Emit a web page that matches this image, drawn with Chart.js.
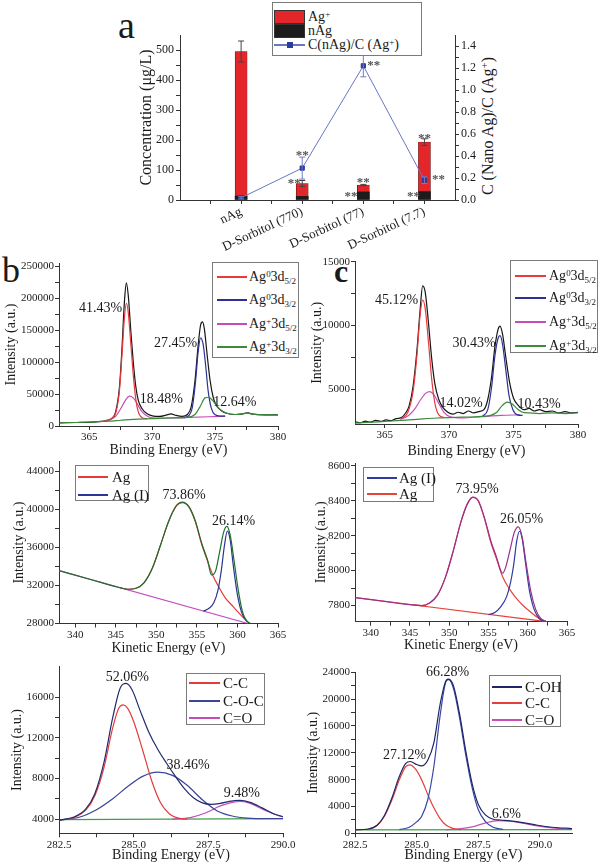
<!DOCTYPE html>
<html>
<head>
<meta charset="utf-8">
<script src="https://cdn.jsdelivr.net/npm/chart.js@4/dist/chart.umd.min.js"></script>
<style>
  body { margin: 0; background: #fff; }
  #wrap { position: relative; width: 600px; height: 865px; overflow: hidden;
          font-family: "Liberation Serif", "Times New Roman", serif; color: #1a1a1a; }
  canvas { position: absolute; }
  .lgbox { position: absolute; background: #fff; border: 1px solid #7a7a7a; box-sizing: border-box; }
  .lgline { position: absolute; height: 2px; }
  .lgrect { position: absolute; border: 1px solid #333; box-sizing: border-box; }
  .lgtxt { position: absolute; white-space: nowrap; line-height: 18px; }
  .lgtxt sub, .lgtxt sup { font-size: 64%; line-height: 0; }
  .lgtxt sub { vertical-align: -0.35em; }
  .lgtxt sup { vertical-align: 0.5em; }
  .letter { position: absolute; line-height: 1; }
  .rtitle { position: absolute; white-space: nowrap; font-size: 16px; transform: translate(-50%, -50%) rotate(-90deg); }
  .rtitle sup { font-size: 68%; line-height: 0; vertical-align: 0.5em; }
</style>
</head>
<body>
<div id="wrap">
  <div class="letter" style="left:118px;top:6px;font-size:38px;">a</div>
  <div class="letter" style="left:2px;top:252px;font-size:36px;">b</div>
  <div class="letter" style="left:334px;top:255px;font-size:32px;font-weight:bold;">c</div>
  <div class="rtitle" style="left:488px;top:126px;">C (Nano Ag)/C (Ag<sup>+</sup>)</div>
</div>
<script>
// ---- panel a: concentrations ----
const categories = ["nAg", "D-Sorbitol (770)", "D-Sorbitol (77)", "D-Sorbitol (7.7)"];
const agIon = [482, 43, 23, 165];
const nAg = [13, 12, 27, 28];
const totalErr = [35, 10, 2, 11];
const ratio = [0.02, 0.29, 1.22, 0.18];
const ratioErr = [0.01, 0.1, 0.1, 0.03];
const concTicks = [0, 100, 200, 300, 400, 500];
const ratioTicks = [0, 0.2, 0.4, 0.6, 0.8, 1.0, 1.2, 1.4];
// "**" marks: [x position, value, axis]
const stars = [[1.87, 65, "y"], [2, 0.43, "y1"], [2.8, 22, "y"], [3, 68, "y"], [3.17, 1.25, "y1"],
               [3.82, 22, "y"], [4, 213, "y"], [4.23, 0.21, "y1"]];

// ---- panel b: Ag 3d, sample 1 ----
const bTotal = [[362.6,5000],[364,5500],[365.5,6500],[366.3,8000],[366.8,12000],[367.1,22000],[367.4,60000],[367.6,120000],[367.8,195000],[367.95,224000],[368.1,205000],[368.3,150000],[368.5,100000],[368.7,62000],[368.9,40000],[369.2,27000],[369.6,19000],[370.1,15500],[370.6,15000],[371.1,17000],[371.5,19000],[371.9,16500],[372.4,15000],[372.8,18000],[373.1,30000],[373.4,70000],[373.65,125000],[373.85,158000],[374.0,163000],[374.15,152000],[374.35,115000],[374.6,72000],[374.85,45000],[375.1,32000],[375.5,24000],[376,19500],[376.6,18000],[377.2,19000],[377.6,20500],[378,18500],[379,17500],[380,17500]];
const bAg0d52 = [[366.2,8000],[366.7,11000],[367.1,20000],[367.4,55000],[367.6,110000],[367.8,170000],[367.95,192000],[368.1,178000],[368.3,130000],[368.5,80000],[368.7,42000],[368.9,22000],[369.2,13000],[369.6,11500]];
const bAg0d32 = [[372.5,13000],[372.9,16000],[373.2,30000],[373.45,70000],[373.65,115000],[373.85,138000],[374.05,128000],[374.25,95000],[374.45,55000],[374.7,28000],[375.0,17500],[375.4,15500],[375.8,15500]];
const bAgId52 = [[366.0,7000],[366.6,9500],[367.1,15000],[367.5,27000],[367.9,41000],[368.2,46600],[368.5,44000],[368.8,35000],[369.2,22000],[369.7,14500],[370.3,12500],[371.5,12800],[373,13500],[374.5,14500],[375.8,15500]];
const bAgId32 = [[362.6,5000],[364,5500],[365.5,6500],[366.5,7500],[367.5,9000],[368.5,10500],[370,11500],[371.5,12500],[372.8,13500],[373.4,18000],[373.8,30000],[374.2,44000],[374.5,45000],[374.8,40000],[375.2,30000],[375.6,23000],[376,19500],[376.6,18000],[377.2,19000],[377.6,20500],[378,18500],[379,17500],[380,17500]];
const bLabels = [["41.43%",365.9,184600],["27.45%",371.86,129800],["18.48%",370.74,42240],["12.64%",376.58,37550]];

// ---- panel c: Ag 3d, sample 2 ----
const cTotal = [[362.7,2450],[363.1,2380],[363.5,2500],[363.9,2420],[364.3,2560],[364.7,2480],[365.1,2600],[365.5,2540],[365.9,2700],[366.3,2780],[366.6,3100],[366.9,3700],[367.2,5200],[367.5,8000],[367.75,11200],[367.95,13100],[368.15,12600],[368.4,10200],[368.65,7400],[368.9,5400],[369.2,4200],[369.5,3600],[369.9,3200],[370.3,3050],[370.7,3200],[371.1,3100],[371.5,3300],[371.9,3150],[372.3,3250],[372.7,3400],[373.0,4200],[373.3,6000],[373.55,8300],[373.8,9700],[373.95,9950],[374.15,9300],[374.4,7500],[374.7,5500],[375.0,4300],[375.4,3700],[375.8,3400],[376.2,3500],[376.6,3300],[377,3400],[377.5,3250],[378,3300],[378.5,3150],[379,3250],[379.5,3150],[380,3200]];
const cAg0d52 = [[366.3,2700],[366.8,3200],[367.2,4800],[367.5,7600],[367.75,10800],[367.95,12000],[368.15,11300],[368.4,8700],[368.65,5800],[368.9,3900],[369.2,3000],[369.6,2800]];
const cAg0d32 = [[372.6,2900],[373.0,3400],[373.3,5200],[373.55,7600],[373.8,9000],[373.95,9200],[374.15,8500],[374.4,6500],[374.65,4500],[374.95,3400],[375.3,3000],[375.7,2950]];
const cAgId52 = [[366.2,2650],[366.8,2900],[367.3,3400],[367.8,4200],[368.2,4700],[368.5,4820],[368.8,4600],[369.2,3900],[369.6,3200],[370.1,2850],[371,2750],[372.5,2850],[374,2950],[375.5,3000]];
const cAgId32 = [[362.7,2350],[364.5,2450],[366,2550],[367.5,2650],[369,2750],[370.5,2800],[372,2850],[373.2,2950],[373.7,3200],[374.1,3700],[374.5,4000],[374.9,3850],[375.3,3450],[375.7,3200],[376.2,3150],[377,3100],[378,3150],[379,3100],[380,3150]];
const cLabels = [["45.12%",365.92,12000],["30.43%",371.93,8630],["14.02%",370.92,3930],["10.43%",376.98,3850]];

// ---- middle left: Ag MNN, sample 1 ----
const mlBg = [[338,33550],[361.3,28000]];
const mlTotal = [[338,33550],[342,32600],[345,31880],[346.5,31600],[347.5,31700],[348.5,32300],[349.5,33800],[350.5,36200],[351.5,38700],[352.5,40400],[353.2,40750],[354,40300],[354.8,38800],[355.6,36400],[356.3,34700],[356.8,33100],[357.3,33500],[357.8,35500],[358.3,37600],[358.7,38200],[359.1,37300],[359.6,34500],[360.1,31500],[360.6,29300],[361.1,28300],[361.6,28000]];
const mlAg = [[345.5,31770],[346.5,31600],[347.5,31700],[348.5,32300],[349.5,33800],[350.5,36200],[351.5,38700],[352.5,40400],[353.2,40700],[354,40250],[354.8,38700],[355.6,36300],[356.3,34600],[357.0,33000],[357.6,32000],[358.5,30700],[359.5,29750],[360.4,28900],[361.2,28200]];
const mlAgI = [[355.8,29300],[356.5,29600],[357.1,30200],[357.6,31500],[358.0,33500],[358.4,36200],[358.75,37700],[359.1,36800],[359.5,34000],[360.0,31000],[360.5,29200],[361.0,28400],[361.5,28000]];
const mlLabels = [["73.86%",353.41,41500],["26.14%",359.51,38770]];

// ---- middle right: Ag MNN, sample 2 ----
const mrBg = [[338,7846],[362.4,7708]];
const mrTotal = [[338,7846],[342,7823],[345,7806],[346.5,7800],[347.5,7815],[348.5,7860],[349.5,7960],[350.5,8110],[351.5,8280],[352.3,8380],[353.0,8420],[353.7,8400],[354.5,8300],[355.3,8170],[356.0,8080],[356.6,7995],[356.8,7985],[357.2,8020],[357.7,8110],[358.3,8220],[358.8,8250],[359.3,8190],[359.8,8040],[360.4,7880],[361.0,7780],[361.6,7730],[362.4,7708]];
const mrAg = [[345.5,7804],[346.5,7800],[347.5,7815],[348.5,7860],[349.5,7960],[350.5,8110],[351.5,8280],[352.3,8380],[353.0,8418],[353.7,8398],[354.5,8295],[355.3,8160],[356.0,8070],[356.8,7965],[357.6,7900],[358.4,7850],[359.3,7805],[360.3,7766],[361.3,7730],[362.3,7710]];
const mrAgI = [[355.0,7748],[355.8,7760],[356.5,7790],[357.3,7850],[357.8,7930],[358.2,8030],[358.6,8170],[358.95,8225],[359.3,8180],[359.7,8050],[360.2,7890],[360.8,7780],[361.5,7725],[362.3,7708]];
const mrLabels = [["73.95%",353.54,8466],["26.05%",359.2,8295]];

// ---- bottom left: C 1s, sample 1 ----
const blBase = [[282.5,3950],[290,4050]];
const blTotal = [[282.5,3900],[283.0,4200],[283.4,5000],[283.7,6500],[284.0,9500],[284.3,14000],[284.55,16900],[284.75,17350],[284.95,16700],[285.2,14800],[285.5,12600],[285.8,10900],[286.1,9500],[286.4,8200],[286.7,7000],[287.0,6100],[287.3,5600],[287.6,5450],[287.9,5550],[288.2,5750],[288.55,5850],[288.9,5650],[289.3,5100],[289.7,4500],[290.0,4250]];
const blCC = [[282.5,3900],[283.0,4150],[283.4,4900],[283.7,6300],[284.0,9000],[284.3,13000],[284.5,14900],[284.65,15240],[284.8,14900],[285.0,13600],[285.3,10800],[285.6,7800],[285.9,5600],[286.2,4500],[286.5,4100],[286.8,4000]];
const blCOC = [[282.5,3900],[283.2,4200],[283.8,5000],[284.3,6000],[284.8,7200],[285.3,8200],[285.8,8620],[286.3,8300],[286.8,7300],[287.3,5900],[287.8,4800],[288.3,4300],[288.8,4100],[289.5,4050],[290,4050]];
const blCO = [[286.3,4000],[286.9,4150],[287.4,4600],[287.9,5300],[288.3,5650],[288.6,5730],[288.9,5550],[289.3,5000],[289.7,4500],[290.0,4200]];
const blLabels = [["52.06%",284.79,17920],["38.46%",286.82,9250],["9.48%",288.62,6540]];

// ---- bottom right: C 1s, sample 2 ----
const brBase = [[282.5,500],[291.3,550]];
const brTotal = [[282.5,520],[283.0,600],[283.4,1200],[283.7,2700],[284.0,5300],[284.3,8500],[284.55,10400],[284.75,10700],[285.0,10250],[285.2,10050],[285.45,10900],[285.7,13500],[285.95,19200],[286.2,22800],[286.3,22980],[286.5,21900],[286.75,17600],[287.0,12100],[287.25,7400],[287.5,4300],[287.8,2700],[288.1,2100],[288.4,1980],[288.8,1850],[289.3,1600],[289.9,1200],[290.5,900],[291.3,700]];
const brCC = [[282.5,520],[283.0,600],[283.4,1200],[283.7,2600],[284.0,5000],[284.3,8000],[284.55,9900],[284.72,10200],[284.95,9600],[285.2,8000],[285.45,5800],[285.7,3800],[285.95,2200],[286.2,1200],[286.5,700],[286.8,550]];
const brCOH = [[284.3,550],[284.7,900],[285.0,1700],[285.2,2500],[285.45,5000],[285.7,10000],[285.95,17500],[286.2,22700],[286.3,22900],[286.5,21500],[286.75,17000],[287.0,11500],[287.25,6800],[287.5,3500],[287.8,1700],[288.1,900],[288.5,600]];
const brCO = [[286.2,520],[286.8,700],[287.3,1000],[287.8,1550],[288.3,1900],[288.8,1800],[289.3,1500],[289.9,1100],[290.5,800],[291.0,650]];
const brLabels = [["66.28%",286.25,24000],["27.12%",284.51,11670],["6.6%",288.64,2830]];

// tick values
const agXTicks = [365, 370, 375, 380];
const bYTicks = [0, 50000, 100000, 150000, 200000, 250000];
const cYTicks = [5000, 10000, 15000];
const keXTicks = [340, 345, 350, 355, 360, 365];
const mlYTicks = [28000, 32000, 36000, 40000, 44000];
const mrYTicks = [7800, 8000, 8200, 8400, 8600];
const c1sXTicks = [282.5, 285.0, 287.5, 290.0];
const blYTicks = [4000, 8000, 12000, 16000];
const brYTicks = [0, 4000, 8000, 12000, 16000, 20000, 24000];

const FONT = '"Liberation Serif", "Times New Roman", serif';
Chart.defaults.font.family = FONT;
Chart.defaults.color = "#1a1a1a";
const wrap = document.getElementById("wrap");

function addCanvas(box) {
  const c = document.createElement("canvas");
  c.width = box[2] - box[0];
  c.height = box[3] - box[1];
  c.style.left = box[0] + "px";
  c.style.top = box[1] + "px";
  wrap.appendChild(c);
  return c;
}

// majors plus one minor tick between each pair
function withMinor(major) {
  const out = [];
  major.forEach((v, i) => {
    out.push(v);
    if (i < major.length - 1) out.push((v + major[i + 1]) / 2);
  });
  return out;
}

function axisLook() {
  return {
    grid: { display: true, drawOnChartArea: false, drawTicks: true, tickLength: 4, color: "#333", offset: false },
    border: { display: true, color: "#333", width: 1 },
  };
}

const peakLabels = {
  id: "peakLabels",
  afterDatasetsDraw(chart, args, opts) {
    const { ctx, scales } = chart;
    ctx.save();
    ctx.font = "14px " + FONT;
    ctx.fillStyle = "#1a1a1a";
    ctx.textAlign = "center";
    ctx.textBaseline = "middle";
    (opts.items || []).forEach(([t, x, y]) => {
      ctx.fillText(t, scales.x.getPixelForValue(x), scales.y.getPixelForValue(y));
    });
    ctx.restore();
  },
};

function xpsPanel(o) {
  const c = addCanvas(o.box);
  const n = o.series.length;
  return new Chart(c, {
    type: "scatter",
    data: {
      datasets: o.series.map((s, i) => ({
        data: s[0].map((p) => ({ x: p[0], y: p[1] })),
        showLine: true,
        borderColor: s[1],
        borderWidth: 1.2,
        pointRadius: 0,
        cubicInterpolationMode: "monotone",
        order: n - i,
      })),
    },
    options: {
      responsive: false,
      animation: false,
      devicePixelRatio: 1,
      layout: { padding: { top: o.plot[1] - o.box[1], right: o.box[2] - o.plot[2], left: 0, bottom: 0 } },
      plugins: { legend: { display: false }, tooltip: { enabled: false }, peakLabels: { items: o.labels } },
      scales: {
        x: {
          type: "linear", min: o.xr[0], max: o.xr[1], ...axisLook(),
          afterFit: (s) => { s.height = o.box[3] - o.plot[3]; },
          afterBuildTicks: (s) => { s.ticks = withMinor(o.xt).map((v) => ({ value: v })); },
          ticks: { autoSkip: false, maxRotation: 0, padding: 1, font: { size: 11 },
                   callback: (v) => (o.xt.includes(v) ? o.xf(v) : "") },
          title: { display: true, text: o.xTitle, font: { size: 14 }, padding: { top: 0, bottom: o.xtp } },
        },
        y: {
          type: "linear", min: o.yr[0], max: o.yr[1], ...axisLook(),
          afterFit: (s) => { s.width = o.plot[0] - o.box[0]; },
          afterBuildTicks: (s) => { s.ticks = withMinor(o.yt).map((v) => ({ value: v })); },
          ticks: { autoSkip: false, padding: 1, font: { size: 11 },
                   callback: (v) => (o.yt.includes(v) ? String(v) : "") },
          title: { display: true, text: "Intensity (a.u.)", font: { size: 14 }, padding: { top: o.ytp, bottom: 0 } },
        },
      },
    },
    plugins: [peakLabels],
  });
}

// ---- panel a ----
const aPlugin = {
  id: "aMarks",
  afterDatasetsDraw(chart) {
    const { ctx, scales } = chart;
    const { x, y, y1 } = scales;
    ctx.save();
    ctx.lineWidth = 1;
    const bar = (px, lo, hi, sc, col) => {
      const a = sc.getPixelForValue(lo), b = sc.getPixelForValue(hi);
      ctx.strokeStyle = col;
      ctx.beginPath();
      ctx.moveTo(px, a); ctx.lineTo(px, b);
      ctx.moveTo(px - 3, a); ctx.lineTo(px + 3, a);
      ctx.moveTo(px - 3, b); ctx.lineTo(px + 3, b);
      ctx.stroke();
    };
    categories.forEach((c, i) => {
      const px = x.getPixelForValue(i + 1);
      const t = agIon[i] + nAg[i];
      bar(px, t - totalErr[i], t + totalErr[i], y, "#444");
      bar(px, ratio[i] - ratioErr[i], ratio[i] + ratioErr[i], y1, "#6f7cc4");
    });
    ctx.font = "bold 13px " + FONT;
    ctx.fillStyle = "#555";
    ctx.textAlign = "center";
    ctx.textBaseline = "middle";
    stars.forEach(([sx, sv, ax]) => {
      ctx.fillText("**", x.getPixelForValue(sx), scales[ax].getPixelForValue(sv) + 3);
    });
    ctx.restore();
  },
};

const aBox = [130, 0, 497, 262], aPlot = [180, 35, 455, 200];
const aXTicks = [0.5, 1, 1.5, 2, 2.5, 3, 3.5, 4];
new Chart(addCanvas(aBox), {
  type: "bar",
  data: {
    datasets: [
      { type: "line", data: ratio.map((v, i) => ({ x: i + 1, y: v })), yAxisID: "y1",
        borderColor: "#6877c4", borderWidth: 1, pointStyle: "rect", pointRadius: 3,
        pointBackgroundColor: "#2c3c9c", pointBorderColor: "#2c3c9c", order: 0 },
      { data: nAg.map((v, i) => ({ x: i + 1, y: v })), yAxisID: "y", backgroundColor: "#1c1c1c",
        grouped: false, barThickness: 12, order: 1 },
      { data: agIon.map((v, i) => ({ x: i + 1, y: v + nAg[i] })), yAxisID: "y", backgroundColor: "#e4262b",
        borderColor: "#5a1010", borderWidth: 0.6, grouped: false, barThickness: 12, order: 2 },
    ],
  },
  options: {
    responsive: false,
    animation: false,
    devicePixelRatio: 1,
    layout: { padding: { top: aPlot[1] - aBox[1], right: 0, left: 0, bottom: 0 } },
    plugins: { legend: { display: false }, tooltip: { enabled: false } },
    scales: {
      x: {
        type: "linear", min: 0, max: 4.5, offset: false, ...axisLook(),
        afterFit: (s) => { s.height = aBox[3] - aPlot[3]; },
        afterBuildTicks: (s) => { s.ticks = aXTicks.map((v) => ({ value: v })); },
        ticks: { autoSkip: false, minRotation: 25, maxRotation: 25, padding: 0, font: { size: 13 },
                 callback: (v) => (Number.isInteger(v) ? categories[v - 1] : "") },
      },
      y: {
        type: "linear", position: "left", min: 0, max: 550, ...axisLook(),
        afterFit: (s) => { s.width = aPlot[0] - aBox[0]; },
        afterBuildTicks: (s) => { s.ticks = withMinor(concTicks).map((v) => ({ value: v })); },
        ticks: { autoSkip: false, padding: 2, font: { size: 12 },
                 callback: (v) => (concTicks.includes(v) ? String(v) : "") },
        title: { display: true, text: "Concentration (μg/L)", font: { size: 16 }, padding: { top: 7, bottom: 0 } },
      },
      y1: {
        type: "linear", position: "right", min: 0, max: 1.5, ...axisLook(),
        afterFit: (s) => { s.width = aBox[2] - aPlot[2]; },
        afterBuildTicks: (s) => { s.ticks = withMinor(ratioTicks).map((v) => ({ value: v })); },
        ticks: { autoSkip: false, padding: 2, font: { size: 12 },
                 callback: (v) => (ratioTicks.some((t) => Math.abs(t - v) < 1e-9) ? v.toFixed(1) : "") },
      },
    },
  },
  plugins: [aPlugin],
});

// ---- XPS panels ----
xpsPanel({ box: [0, 250, 300, 462], plot: [59, 263, 278, 426], xr: [362.6, 380], yr: [0, 255000],
  xt: agXTicks, xf: String, yt: bYTicks, xTitle: "Binding Energy (eV)", xtp: 3.6, ytp: 2.6,
  series: [[bTotal, "#151515"], [bAgId52, "#c64db8"], [bAg0d52, "#e8393c"], [bAg0d32, "#2e3192"], [bAgId32, "#3b8b3b"]],
  labels: bLabels });

xpsPanel({ box: [306, 250, 600, 460], plot: [355, 261.7, 578, 424], xr: [362.7, 380], yr: [2280, 15000],
  xt: agXTicks, xf: String, yt: cYTicks, xTitle: "Binding Energy (eV)", xtp: 0, ytp: 2.6,
  series: [[cTotal, "#151515"], [cAgId52, "#c64db8"], [cAg0d52, "#e8393c"], [cAg0d32, "#2e3192"], [cAgId32, "#3b8b3b"]],
  labels: cLabels });

xpsPanel({ box: [0, 450, 300, 657], plot: [59, 461.7, 278, 623.5], xr: [338, 365], yr: [28000, 45000],
  xt: keXTicks, xf: String, yt: mlYTicks, xTitle: "Kinetic Energy (eV)", xtp: 0.6, ytp: 10.6,
  series: [[mlBg, "#c451c0"], [mlAg, "#e43a3a"], [mlAgI, "#2d3596"], [mlTotal, "#1e6e2e"]],
  labels: mlLabels });

xpsPanel({ box: [306, 450, 600, 655], plot: [355, 463, 567, 621.7], xr: [338, 365], yr: [7708, 8615],
  xt: keXTicks, xf: String, yt: mrYTicks, xTitle: "Kinetic Energy (eV)", xtp: 1.6, ytp: 6.6,
  series: [[mrBg, "#e6453c"], [mrAg, "#e6453c"], [mrAgI, "#303aa0"], [mrTotal, "#9c2f8e"]],
  labels: mrLabels });

xpsPanel({ box: [0, 655, 300, 865], plot: [59, 666.7, 283, 833.3], xr: [282.5, 290], yr: [2600, 19000],
  xt: c1sXTicks, xf: (v) => v.toFixed(1), yt: blYTicks, xTitle: "Binding Energy (eV)", xtp: 1.6, ytp: 8.6,
  series: [[blBase, "#3f9d4d"], [blCO, "#c54cb7"], [blCOC, "#3a4596"], [blCC, "#e43c3c"], [blTotal, "#232a6e"]],
  labels: blLabels });

xpsPanel({ box: [300, 655, 600, 865], plot: [355, 672.3, 572, 833.3], xr: [282.5, 291.3], yr: [0, 24000],
  xt: c1sXTicks, xf: (v) => v.toFixed(1), yt: brYTicks, xTitle: "Binding Energy (eV)", xtp: 1.6, ytp: 4.6,
  series: [[brBase, "#3f9d4d"], [brCO, "#c84db8"], [brCC, "#e2403b"], [brCOH, "#3948a8"], [brTotal, "#1f2566"]],
  labels: brLabels });

// ---- HTML legends (rich text with sub/superscripts) ----
function legend(box, lineX, lineW, textX, size, rows) {
  const b = document.createElement("div");
  b.className = "lgbox";
  Object.assign(b.style, { left: box[0] + "px", top: box[1] + "px", width: box[2] + "px", height: box[3] + "px" });
  wrap.appendChild(b);
  rows.forEach(([cy, kind, col, html]) => {
    if (kind === "rect") {
      const r = document.createElement("div");
      r.className = "lgrect";
      Object.assign(r.style, { left: lineX + "px", top: cy - 7 + "px", width: lineW + "px", height: "14px", background: col });
      wrap.appendChild(r);
    } else {
      const l = document.createElement("div");
      l.className = "lgline";
      Object.assign(l.style, { left: lineX + "px", top: Math.round(cy) - 1 + "px", width: lineW + "px", background: col });
      wrap.appendChild(l);
      if (kind === "pt") {
        const p = document.createElement("div");
        Object.assign(p.style, { position: "absolute", left: lineX + lineW / 2 - 3 + "px", top: Math.round(cy) - 3 + "px",
          width: "6px", height: "6px", background: "#2c3c9c" });
        wrap.appendChild(p);
      }
    }
    const t = document.createElement("div");
    t.className = "lgtxt";
    t.innerHTML = html;
    Object.assign(t.style, { left: textX + "px", top: cy - 9 + "px", fontSize: size + "px" });
    wrap.appendChild(t);
  });
}

const ag = (ox, lvl) => "Ag<sup>" + ox + "</sup>3d<sub>" + lvl + "</sub>";
legend([272, 2, 150, 54], 274, 31, 308, 14, [
  [17, "rect", "#e4262b", "Ag<sup>+</sup>"],
  [31, "rect", "#1c1c1c", "nAg"],
  [45, "pt", "#6877c4", "C(nAg)/C (Ag<sup>+</sup>)"],
]);
legend([212, 262, 87, 96], 217, 30, 249, 14, [
  [277, "line", "#e8393c", ag("0", "5/2")],
  [300, "line", "#2e3192", ag("0", "3/2")],
  [324, "line", "#c64db8", ag("+", "5/2")],
  [347, "line", "#3b8b3b", ag("+", "3/2")],
]);
legend([510, 260, 88, 93], 515, 31, 549, 14, [
  [276, "line", "#e8393c", ag("0", "5/2")],
  [298, "line", "#2e3192", ag("0", "3/2")],
  [322, "line", "#c64db8", ag("+", "5/2")],
  [346, "line", "#3b8b3b", ag("+", "3/2")],
]);
legend([75, 465, 74, 36], 78, 30, 112, 15, [
  [476.5, "line", "#e43a3a", "Ag"],
  [494.5, "line", "#2d3596", "Ag (I)"],
]);
legend([363, 467, 71, 35], 367, 30, 399, 15, [
  [477.5, "line", "#303aa0", "Ag (I)"],
  [494, "line", "#e6453c", "Ag"],
]);
legend([186, 672.5, 79, 52], 189, 31, 223, 15, [
  [682.5, "line", "#e43c3c", "C-C"],
  [701, "line", "#3a4596", "C-O-C"],
  [718, "line", "#c54cb7", "C=O"],
]);
legend([489, 675, 72, 52], 492, 30, 525, 15, [
  [686.5, "line", "#1f2566", "C-OH"],
  [703, "line", "#e2403b", "C-C"],
  [719.5, "line", "#c84db8", "C=O"],
]);
</script>
</body>
</html>
